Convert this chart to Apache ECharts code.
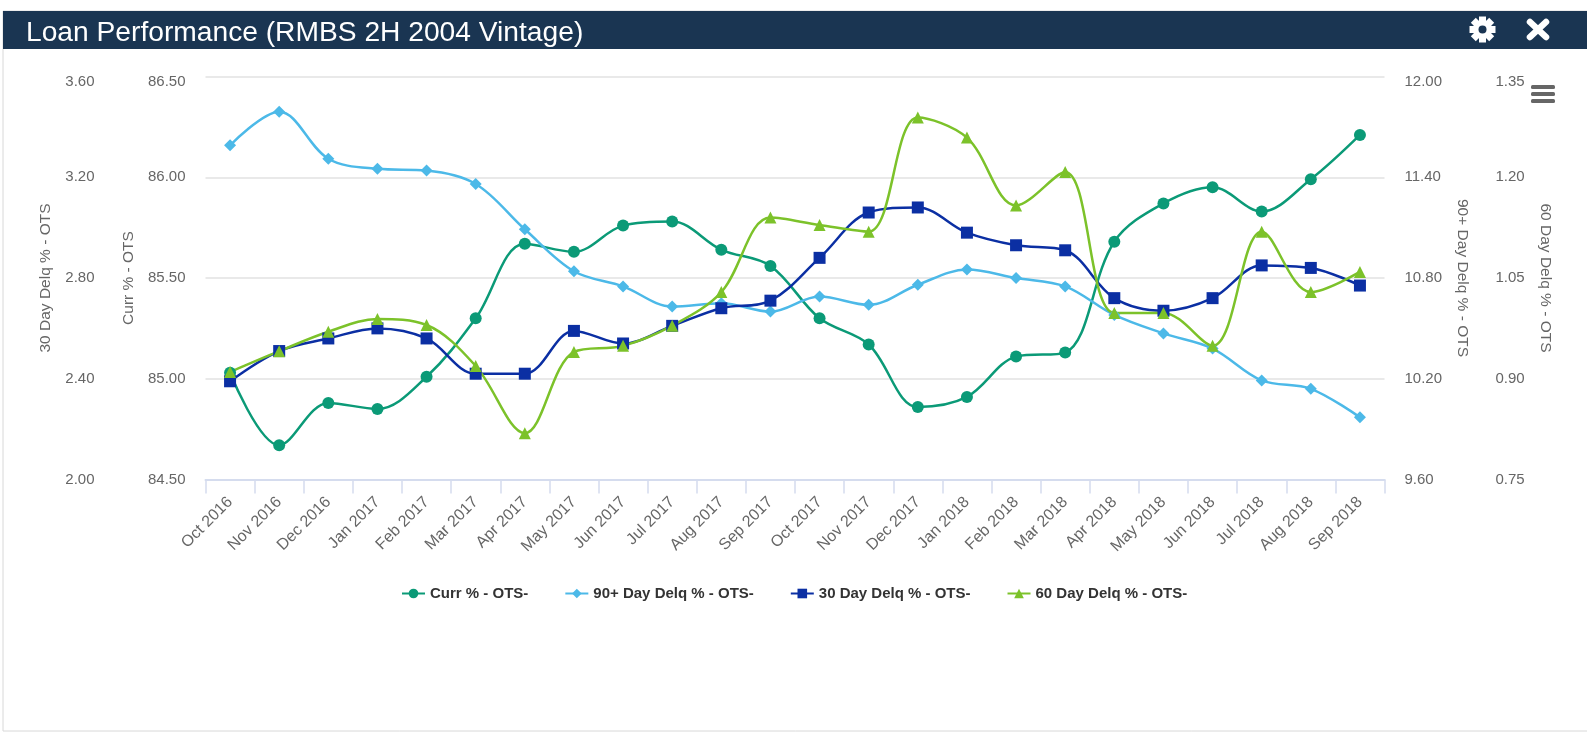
<!DOCTYPE html>
<html>
<head>
<meta charset="utf-8">
<style>html,body{margin:0;padding:0;background:#fff}#c{width:1587px;height:736px}</style>
<script src="https://cdn.jsdelivr.net/npm/echarts@6/dist/echarts.min.js"></script>
</head>
<body>
<div id="c"></div>
<script>
const categories = ["Oct 2016","Nov 2016","Dec 2016","Jan 2017","Feb 2017","Mar 2017","Apr 2017","May 2017","Jun 2017","Jul 2017","Aug 2017","Sep 2017","Oct 2017","Nov 2017","Dec 2017","Jan 2018","Feb 2018","Mar 2018","Apr 2018","May 2018","Jun 2018","Jul 2018","Aug 2018","Sep 2018"];
const curr = [85.03,84.67,84.88,84.85,85.01,85.30,85.67,85.63,85.76,85.78,85.64,85.56,85.30,85.17,84.86,84.91,85.11,85.13,85.68,85.87,85.95,85.83,85.99,86.21];
const delq90 = [11.59,11.79,11.51,11.45,11.44,11.36,11.09,10.84,10.75,10.63,10.65,10.60,10.69,10.64,10.76,10.85,10.80,10.75,10.58,10.47,10.38,10.19,10.14,9.97];
const delq30 = [2.39,2.51,2.56,2.60,2.56,2.42,2.42,2.59,2.54,2.61,2.68,2.71,2.88,3.06,3.08,2.98,2.93,2.91,2.72,2.67,2.72,2.85,2.84,2.77];
const delq60 = [0.91,0.941,0.97,0.989,0.98,0.919,0.819,0.94,0.949,0.979,1.029,1.14,1.129,1.119,1.289,1.259,1.158,1.208,0.998,0.998,0.949,1.119,1.029,1.059];
const FONT = '"Liberation Sans", Arial, sans-serif';

function yAxis(min, max, interval, name, position, offset, gap, isBase) {
  return {
    type: 'value', min, max, interval, position, offset, name,
    nameLocation: 'middle', nameGap: gap, nameRotate: position === 'left' ? 90 : -90,
    nameTextStyle: {color: '#666', fontSize: 15.5, fontFamily: FONT},
    axisLine: {show: false}, axisTick: {show: false},
    axisLabel: {
      color: '#666', fontSize: 15, fontFamily: FONT, margin: 20,
      formatter: v => Math.abs(v - max) < 1e-9 ? '{t|' + v.toFixed(2) + '}' : v.toFixed(2),
      rich: {t: {color: '#666', fontSize: 15, fontFamily: FONT, padding: [10, 0, 0, 0]}}
    },
    splitLine: {show: isBase, lineStyle: {color: '#e9e9e9', width: 2}}
  };
}
function line(name, data, axis, color, symbol) {
  return {
    name, type: 'line', data, yAxisIndex: axis, smooth: 0.35,
    symbol, symbolSize: 12,
    lineStyle: {color, width: 2.5}, itemStyle: {color}
  };
}
const gearTeeth = [0,45,90,135].map(a => ({
  type: 'rect', x: 1482.5, y: 29.5, rotation: a * Math.PI / 180,
  shape: {x: -3.5, y: -13, width: 7, height: 26}, style: {fill: '#fff'}
}));
const chart = echarts.init(document.getElementById('c'), null, {renderer: 'canvas'});
chart.setOption({
  animation: false,
  backgroundColor: '#fff',
  grid: {left: 205.5, right: 202.5, top: 76.5, height: 403, containLabel: false},
  title: {text: 'Loan Performance (RMBS 2H 2004 Vintage)', left: 26, top: 19, padding: 0,
    textStyle: {color: '#fff', fontWeight: 'normal', fontSize: 28.2, fontFamily: FONT}},
  legend: {
    left: 401, top: 586, itemWidth: 23, itemHeight: 12, itemGap: 36, padding: 0,
    textStyle: {color: '#333', fontWeight: 'bold', fontSize: 15, fontFamily: FONT}
  },
  xAxis: {
    type: 'category', data: categories, boundaryGap: true,
    axisLine: {lineStyle: {color: '#d5dcee', width: 2}},
    axisTick: {show: true, length: 14, lineStyle: {color: '#d5dcee', width: 1.5}},
    axisLabel: {color: '#666', fontSize: 16, fontFamily: FONT, rotate: 45, margin: 20, interval: 0}
  },
  yAxis: [
    yAxis(84.5, 86.5, 0.5, 'Curr % - OTS', 'left', 0, 69, true),
    yAxis(2.0, 3.6, 0.4, '30 Day Delq % - OTS', 'left', 91, 61, false),
    yAxis(9.6, 12.0, 0.6, '90+ Day Delq % - OTS', 'right', 0, 70, false),
    yAxis(0.75, 1.35, 0.15, '60 Day Delq % - OTS', 'right', 91, 62, false)
  ],
  series: [
    line('Curr % - OTS-', curr, 0, '#0b9a77', 'circle'),
    line('90+ Day Delq % - OTS-', delq90, 2, '#4cb9e8', 'diamond'),
    line('30 Day Delq % - OTS-', delq30, 1, '#0b2fa3', 'rect'),
    line('60 Day Delq % - OTS-', delq60, 3, '#7cc22a', 'triangle')
  ],
  graphic: [
    {type: 'rect', z: -1, shape: {x: 3, y: 11, width: 1590, height: 720}, style: {fill: '#fff', stroke: '#d8d8d8', lineWidth: 1}},
    {type: 'rect', z: -1, shape: {x: 3, y: 11, width: 1584, height: 38}, style: {fill: '#1a3552'}},
    ...gearTeeth,
    {type: 'circle', shape: {cx: 1482.5, cy: 29.5, r: 9.5}, style: {fill: '#fff'}},
    {type: 'circle', shape: {cx: 1482.5, cy: 29.5, r: 4}, style: {fill: '#1a3552'}},
    {type: 'line', shape: {x1: 1530, y1: 22, x2: 1546, y2: 37}, style: {stroke: '#fff', lineWidth: 6.5, lineCap: 'round'}},
    {type: 'line', shape: {x1: 1546, y1: 22, x2: 1530, y2: 37}, style: {stroke: '#fff', lineWidth: 6.5, lineCap: 'round'}},
    {type: 'rect', shape: {x: 1531, y: 85, width: 24, height: 4, r: 1.5}, style: {fill: '#666'}},
    {type: 'rect', shape: {x: 1531, y: 92, width: 24, height: 4, r: 1.5}, style: {fill: '#666'}},
    {type: 'rect', shape: {x: 1531, y: 99, width: 24, height: 4, r: 1.5}, style: {fill: '#666'}}
  ]
});
</script>
</body>
</html>
